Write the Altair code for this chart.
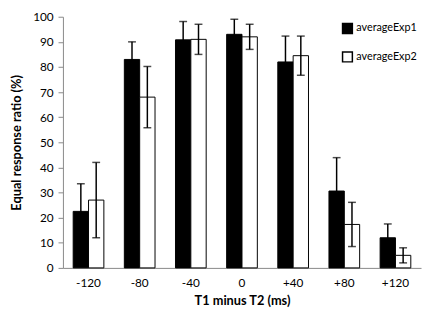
import altair as alt
import pandas as pd

categories = ["-120", "-80", "-40", "0", "+40", "+80", "+120"]
series = ["averageExp1", "averageExp2"]
exp1_mean = [22.5, 83.0, 90.8, 93.0, 82.0, 30.6, 12.0]
exp1_err = [11.0, 7.0, 7.3, 6.0, 10.3, 13.3, 5.5]
exp2_mean = [27.0, 68.0, 91.0, 92.0, 84.5, 17.3, 5.0]
exp2_err = [15.0, 12.2, 6.0, 5.0, 7.8, 8.8, 3.0]
y_ticks = [0, 10, 20, 30, 40, 50, 60, 70, 80, 90, 100]

rows = []
for i, c in enumerate(categories):
    rows.append({"cat": c, "series": series[0], "v": exp1_mean[i],
                 "lo": exp1_mean[i] - exp1_err[i], "hi": exp1_mean[i] + exp1_err[i]})
    rows.append({"cat": c, "series": series[1], "v": exp2_mean[i],
                 "lo": exp2_mean[i] - exp2_err[i], "hi": exp2_mean[i] + exp2_err[i]})
df = pd.DataFrame(rows)

FONT = "Lato"
x = alt.X("cat:N", sort=categories, title="T1 minus T2 (ms)",
          scale=alt.Scale(paddingInner=0.4, paddingOuter=0.2),
          axis=alt.Axis(labelAngle=0, ticks=False, domainColor="#888888",
                        labelFontSize=12, labelPadding=10, titleFontSize=13,
                        titleFontWeight="bold", titlePadding=6, labelColor="black",
                        labelFont=FONT, titleFont=FONT))
xo = alt.XOffset("series:N", sort=series, scale=alt.Scale(paddingInner=0))
y_scale = alt.Scale(domain=[0, 100], nice=False)
y_axis = alt.Axis(values=y_ticks, tickCount=11, grid=False, tickSize=5,
                  tickColor="#888888", domainColor="#888888",
                  labelOverlap=False, labelFlush=False,
                  labelFontSize=12, labelPadding=5, titleFontSize=13,
                  titleFontWeight="bold", titlePadding=9, labelColor="black",
                  labelFont=FONT, titleFont=FONT)
y_title = "Equal response ratio (%)"

bars = alt.Chart(df).mark_bar(stroke="black", strokeWidth=1).encode(
    x=x, xOffset=xo,
    y=alt.Y("v:Q", scale=y_scale, title=y_title, axis=y_axis),
    fill=alt.Fill("series:N", sort=series,
                  scale=alt.Scale(domain=series, range=["black", "white"]),
                  legend=alt.Legend(title=None, orient="none", legendX=284, legendY=6,
                                    symbolType="square", symbolSize=100,
                                    symbolStrokeColor="black", symbolStrokeWidth=1.5,
                                    labelFontSize=11, labelFont=FONT, rowPadding=13,
                                    labelOffset=3)),
)

rules = alt.Chart(df).mark_rule(color="black", strokeWidth=1.5).encode(
    x=x, xOffset=xo, y=alt.Y("lo:Q", scale=y_scale, title=y_title, axis=y_axis),
    y2="hi:Q")
cap_hi = alt.Chart(df).mark_tick(color="black", size=8, thickness=1.5).encode(
    x=x, xOffset=xo, y=alt.Y("hi:Q", scale=y_scale, title=y_title, axis=y_axis))
cap_lo = alt.Chart(df).mark_tick(color="black", size=8, thickness=1.5).encode(
    x=x, xOffset=xo, y=alt.Y("lo:Q", scale=y_scale, title=y_title, axis=y_axis))

chart = alt.layer(bars, rules, cap_hi, cap_lo).properties(
    width=365, height=256,
    autosize=alt.AutoSizeParams(type="none"),
    padding={"left": 56, "top": 6, "right": 2, "bottom": 40},
).configure_view(stroke=None)

chart.save("out.html", embed_options={"renderer": "svg", "actions": False})
